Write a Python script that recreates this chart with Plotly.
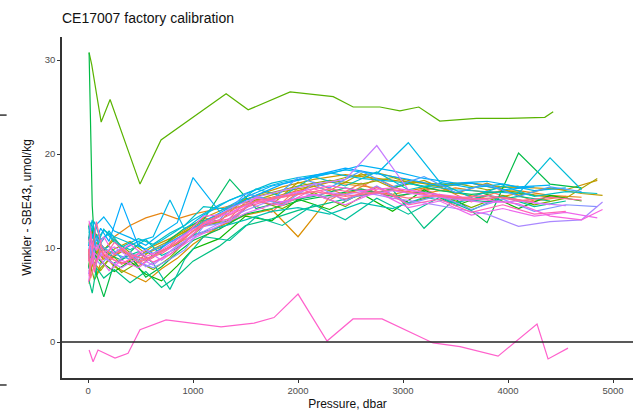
import math
import plotly.graph_objects as go

# ---------------- data ----------------
TITLE = "CE17007 factory calibration"
X_TITLE = "Pressure, dbar"
Y_TITLE = "Winkler - SBE43, umol/kg"
X_TICKS = [0, 1000, 2000, 3000, 4000, 5000]
Y_TICKS = [0, 10, 20, 30]

# bottle pressure sets (dbar)
P1 = [10, 40, 80, 150, 250, 400, 550, 700, 850, 1000, 1250, 1500, 1750, 2000,
      2300, 2600, 2900, 3200, 3500, 3800, 4100, 4400, 4700, 4900]
P2 = [5, 25, 60, 120, 200, 320, 480, 620, 780, 920, 1100, 1350, 1600, 1850,
      2150, 2450, 2750, 3050, 3350, 3650, 3950, 4250, 4550, 4850]
P_green_out = [10, 35, 125, 210, 495, 695, 1315, 1525, 1925, 2145, 2335, 2525,
               2780, 2970, 3150, 3350, 3700, 4000, 4350, 4430]
P_pink_out = [10, 48, 95, 257, 381, 495, 743, 1267, 1581, 1771, 2000, 2276,
              2524, 2800, 3286, 3543, 3905, 4276, 4381, 4571]

# Winkler - SBE43 differences per station (umol/kg)
st00 = [8.5, 10.2, 9.1, 9.8, 8.7, 8.2, 8.9, 9.4, 10.5, 11.3, 12.0, 14.9, 13.8, 16.4, 15.1, 16.9, 15.2, 16.3, 14.8, 16.1, 15.0, 15.4]
st01 = [11.2, 9.5, 10.8, 9.2, 8.6, 9.8, 8.1, 9.0, 10.2, 11.6, 13.2, 12.6, 15.4, 14.7, 17.0, 15.6, 17.4, 15.8, 16.5, 14.9, 16.2, 15.0, 15.5]
st02 = [7.5, 8.8, 10.6, 9.7, 11.2, 12.4, 13.2, 13.7, 13.1, 13.6, 14.2, 14.9, 15.4, 16.1, 17.0, 16.6, 16.2, 15.8, 16.4, 15.9, 16.1, 15.6, 15.4]
st03 = [6.2, 8.4, 7.1, 9.3, 8.0, 7.2, 6.4, 7.8, 8.9, 10.4, 12.3, 13.5, 14.1, 11.2, 15.4, 16.2, 15.7, 16.4, 15.9, 15.2, 15.8, 15.5]
st04 = [9.8, 7.6, 8.9, 10.4, 9.5, 8.3, 9.1, 10.2, 11.0, 11.9, 13.2, 14.4, 15.6, 16.5, 17.3, 17.8, 17.4, 17.0, 16.8, 16.9, 16.5, 16.4, 16.2, 17.2]
st05 = [10.5, 11.8, 9.6, 8.8, 9.9, 10.7, 9.4, 10.1, 11.3, 12.2, 12.8, 15.3, 14.6, 17.0, 16.1, 17.9, 16.4, 17.2, 15.8, 16.9, 15.6, 16.4, 15.8, 15.6]
st06 = [8.0, 9.2, 8.4, 7.6, 8.8, 9.6, 8.7, 9.9, 10.8, 11.7, 12.9, 14.0, 15.1, 16.0, 16.6, 17.5, 18.0, 17.2, 16.5, 16.9, 16.2, 15.6, 15.3, 17.4]
st07 = [12.6, 10.4, 11.5, 9.8, 10.9, 9.5, 8.6, 9.7, 10.4, 11.8, 13.4, 15.2, 15.9, 16.6, 17.2, 16.8, 17.5, 16.5, 16.9, 16.2, 16.6]
st08 = [9.4, 8.1, 6.6, 7.9, 8.8, 7.4, 8.5, 7.7, 9.0, 10.6, 12.4, 12.9, 15.1, 14.2, 15.9, 14.4, 16.5, 14.8, 15.7, 14.3, 15.6, 14.6, 15.3]
st09 = [30.8, 29.5, 23.4, 25.8, 16.8, 21.5, 26.4, 24.7, 26.6, 26.3, 26.1, 25.0, 25.0, 24.6, 25.0, 23.5, 23.8, 23.8, 23.9, 24.5]
st10 = [10.8, 12.2, 9.0, 8.3, 7.5, 8.6, 7.2, 6.5, 8.1, 9.9, 11.0, 13.4, 12.9, 15.2, 14.1, 15.8, 13.9, 16.2, 14.5, 15.7, 14.2, 15.6, 15.0]
st11 = [30.8, 14.5, 7.2, 4.8, 8.4, 9.2, 6.9, 8.0, 9.5, 10.8, 12.0, 13.6, 14.2, 15.0, 15.6, 16.3, 15.5, 16.0, 15.2, 12.7, 20.1, 16.8, 16.4]
st12 = [7.8, 9.6, 8.2, 10.1, 9.3, 8.7, 10.4, 9.1, 10.9, 12.1, 13.0, 17.3, 14.2, 14.9, 15.5, 16.4, 15.8, 16.9, 16.1, 15.7, 16.0, 15.6]
st13 = [6.5, 5.2, 7.9, 6.8, 7.7, 6.3, 7.5, 5.8, 7.0, 8.6, 10.2, 12.4, 13.1, 14.0, 14.8, 15.6, 16.2, 12.1, 15.3, 14.9, 15.5, 15.0]
st14 = [12.4, 10.6, 11.9, 9.7, 10.2, 8.9, 9.6, 8.4, 5.6, 8.8, 11.2, 10.8, 13.3, 12.4, 14.6, 13.0, 15.3, 13.6, 15.4, 14.0, 15.5, 14.4, 15.0]
st15 = [9.0, 11.5, 10.2, 12.0, 10.6, 9.8, 10.9, 9.2, 10.0, 11.4, 12.2, 13.0, 13.9, 14.3, 13.6, 14.8, 14.2, 15.4, 14.8, 15.6, 15.1]
st16 = [10.9, 12.7, 11.4, 10.5, 11.8, 10.1, 11.0, 10.4, 11.6, 12.4, 14.4, 14.1, 16.3, 15.5, 17.6, 16.6, 18.1, 16.2, 16.9, 15.4, 16.6, 15.5, 16.0, 15.8]
st17 = [11.6, 13.0, 10.8, 11.9, 11.2, 10.5, 9.9, 10.8, 11.9, 13.0, 14.6, 15.8, 16.9, 17.5, 18.0, 17.4, 17.1, 16.6, 16.2, 16.0, 15.8, 19.6, 16.2]
st18 = [10.2, 11.7, 12.8, 10.9, 11.5, 9.8, 10.7, 11.2, 15.1, 12.0, 13.5, 15.1, 16.2, 17.0, 17.6, 18.3, 17.9, 21.2, 17.0, 16.4, 16.8, 16.1, 16.4]
st19 = [12.2, 11.0, 12.5, 13.3, 11.8, 11.1, 10.3, 11.6, 12.7, 17.5, 13.9, 15.4, 16.6, 17.2, 17.9, 18.8, 18.2, 17.4, 16.9, 17.1, 16.5, 16.7]
st20 = [9.6, 11.0, 10.3, 12.1, 10.7, 14.8, 10.2, 9.4, 10.6, 11.5, 12.8, 14.3, 15.6, 16.8, 17.7, 18.5, 17.9, 17.3, 16.6, 16.9, 16.2, 16.5]
st21 = [10.4, 9.2, 11.1, 10.0, 9.4, 8.8, 9.5, 10.2, 11.0, 12.1, 13.0, 15.8, 15.1, 17.5, 16.4, 18.2, 16.5, 17.6, 15.9, 16.8, 15.5, 16.5, 16.0]
st22 = [8.8, 10.1, 9.0, 8.2, 9.2, 10.0, 8.5, 7.9, 8.8, 9.8, 12.3, 12.8, 15.4, 14.6, 16.8, 15.0, 16.6, 14.7, 15.6, 14.1, 15.2, 13.9, 14.6, 14.4]
st23 = [9.9, 8.6, 10.4, 9.1, 8.3, 9.6, 8.0, 8.9, 10.3, 11.2, 12.6, 14.0, 15.1, 15.9, 15.4, 16.0, 15.3, 14.8, 14.2, 13.6, 12.3, 12.8, 13.0, 14.9]
st24 = [7.2, 8.9, 8.0, 9.4, 8.6, 7.9, 9.0, 8.2, 9.6, 10.7, 12.5, 14.2, 15.4, 16.1, 16.8, 17.3, 20.9, 16.2, 15.6, 15.1, 15.4, 14.8, 14.5]
st25 = [11.0, 9.7, 8.6, 9.5, 10.1, 9.0, 9.8, 8.7, 9.9, 11.0, 12.4, 13.7, 14.6, 15.3, 15.9, 15.5, 16.1, 15.6, 15.2, 14.8, 15.0, 14.6]
st26 = [6.4, 8.0, 9.5, 8.8, 7.6, 8.7, 7.9, 9.1, 10.0, 11.3, 13.4, 13.6, 15.3, 14.9, 15.7, 14.6, 16.0, 14.3, 15.0, 13.5, 14.2, 13.4, 13.8, 13.2]
st27 = [12.9, 10.5, 9.8, 11.2, 9.3, 10.4, 9.1, 9.8, 10.9, 12.0, 13.3, 14.5, 15.3, 16.0, 16.6, 16.1, 16.4, 15.9, 15.5, 15.1, 14.7, 13.4, 13.0, 14.1]
st28 = [-0.85, -2.1, -0.85, -1.7, -1.2, 1.3, 2.35, 1.6, 2.0, 2.6, 5.1, 0.1, 2.45, 2.45, -0.1, -0.5, -1.5, 1.9, -1.8, -0.65]
st29 = [8.6, 11.8, 7.4, 10.2, 9.0, 8.3, 9.4, 8.5, 9.3, 10.5, 12.6, 13.1, 15.0, 14.5, 16.3, 15.2, 16.5, 14.6, 15.2, 13.8, 14.6, 13.6, 13.9]
st30 = [7.0, 9.4, 12.8, 8.9, 10.6, 9.3, 8.8, 9.6, 10.6, 11.8, 13.0, 14.3, 15.2, 15.7, 16.3, 15.8, 16.2, 15.7, 15.3, 15.6, 15.0, 15.4, 15.1]
st31 = [9.9, 6.8, 8.3, 9.7, 8.9, 9.9, 8.4, 9.2, 10.1, 11.0, 12.7, 14.0, 15.0, 15.5, 16.0, 15.5, 15.9, 15.3, 15.6, 15.2, 15.4, 14.9]

STATIONS = [
    (P1, st00), (P2, st01), (P1, st02), (P1, st03), (P2, st04), (P1, st05),
    (P2, st06), (P1, st07), (P2, st08), (P_green_out, st09), (P1, st10),
    (P1, st11), (P2, st12), (P1, st13), (P2, st14), (P1, st15), (P2, st16),
    (P1, st17), (P2, st18), (P1, st19), (P2, st20), (P1, st21), (P2, st22),
    (P1, st23), (P2, st24), (P1, st25), (P2, st26), (P1, st27),
    (P_pink_out, st28), (P2, st29), (P1, st30), (P2, st31),
]


# ---------------- ggplot hue palette ----------------
def hcl_hex(h, c=100.0, l=65.0):
    xn, yn, zn = 95.047, 100.0, 108.883
    den = xn + 15 * yn + 3 * zn
    un, vn = 4 * xn / den, 9 * yn / den
    hr = math.radians(h)
    U, V = c * math.cos(hr), c * math.sin(hr)
    Y = yn * ((l + 16) / 116) ** 3
    u = U / (13 * l) + un
    v = V / (13 * l) + vn
    X = 9.0 * Y * u / (4 * v)
    Z = -X / 3 - 5 * Y + 3 * Y / v
    X, Y, Z = X / 100, Y / 100, Z / 100
    r = 3.240479 * X - 1.537150 * Y - 0.498535 * Z
    g = -0.969256 * X + 1.875992 * Y + 0.041556 * Z
    b = 0.055648 * X - 0.204043 * Y + 1.057311 * Z

    def gam(t):
        t = 12.92 * t if t <= 0.0031308 else 1.055 * t ** (1 / 2.4) - 0.055
        return int(round(255 * min(1, max(0, t))))
    return "#%02x%02x%02x" % (gam(r), gam(g), gam(b))


n = len(STATIONS)
colors = [hcl_hex(15 + i * 360.0 / n) for i in range(n)]

# ---------------- figure ----------------
fig = go.Figure()
for (pres, vals), col in zip(STATIONS, colors):
    fig.add_trace(go.Scatter(
        x=pres[:len(vals)], y=vals, mode="lines",
        line=dict(color=col, width=1.2),
        showlegend=False, hoverinfo="skip"))

FONT = "Liberation Sans, Arial, sans-serif"
axis_common = dict(
    showgrid=False, zeroline=False, showline=True, linecolor="#333333",
    linewidth=1.6, ticks="outside", ticklen=3, tickwidth=1.1,
    tickcolor="#333333", tickfont=dict(family=FONT, size=9.5, color="#4d4d4d"),
)

fig.update_layout(
    width=633, height=416,
    margin=dict(l=62, r=0, t=37, b=38),
    paper_bgcolor="white", plot_bgcolor="white",
    font=dict(family=FONT),
    title=dict(text=TITLE, x=62 / 633, xanchor="left", xref="container",
               y=1 - 18 / 416, yanchor="middle", yref="container",
               font=dict(family=FONT, size=14, color="#111111")),
    xaxis=dict(range=[-248, 5190], tickvals=X_TICKS,
               title=dict(text=X_TITLE, standoff=4,
                          font=dict(family=FONT, size=12, color="#111111")),
               **axis_common),
    yaxis=dict(range=[-3.83, 32.45], tickvals=Y_TICKS,
               title=dict(text=Y_TITLE, standoff=11,
                          font=dict(family=FONT, size=12, color="#111111")),
               **axis_common),
    shapes=[
        dict(type="line", xref="paper", yref="y", x0=0, x1=1, y0=0, y1=0,
             line=dict(color="#222222", width=1.5), layer="above"),
        dict(type="line", xref="paper", yref="paper", x0=-0.1096, x1=-0.097,
             y0=0.771, y1=0.771, line=dict(color="#333333", width=1.5)),
        dict(type="line", xref="paper", yref="paper", x0=-0.1096, x1=-0.097,
             y0=-0.0205, y1=-0.0205, line=dict(color="#333333", width=1.5)),
    ],
)

fig.write_html("out.html")
